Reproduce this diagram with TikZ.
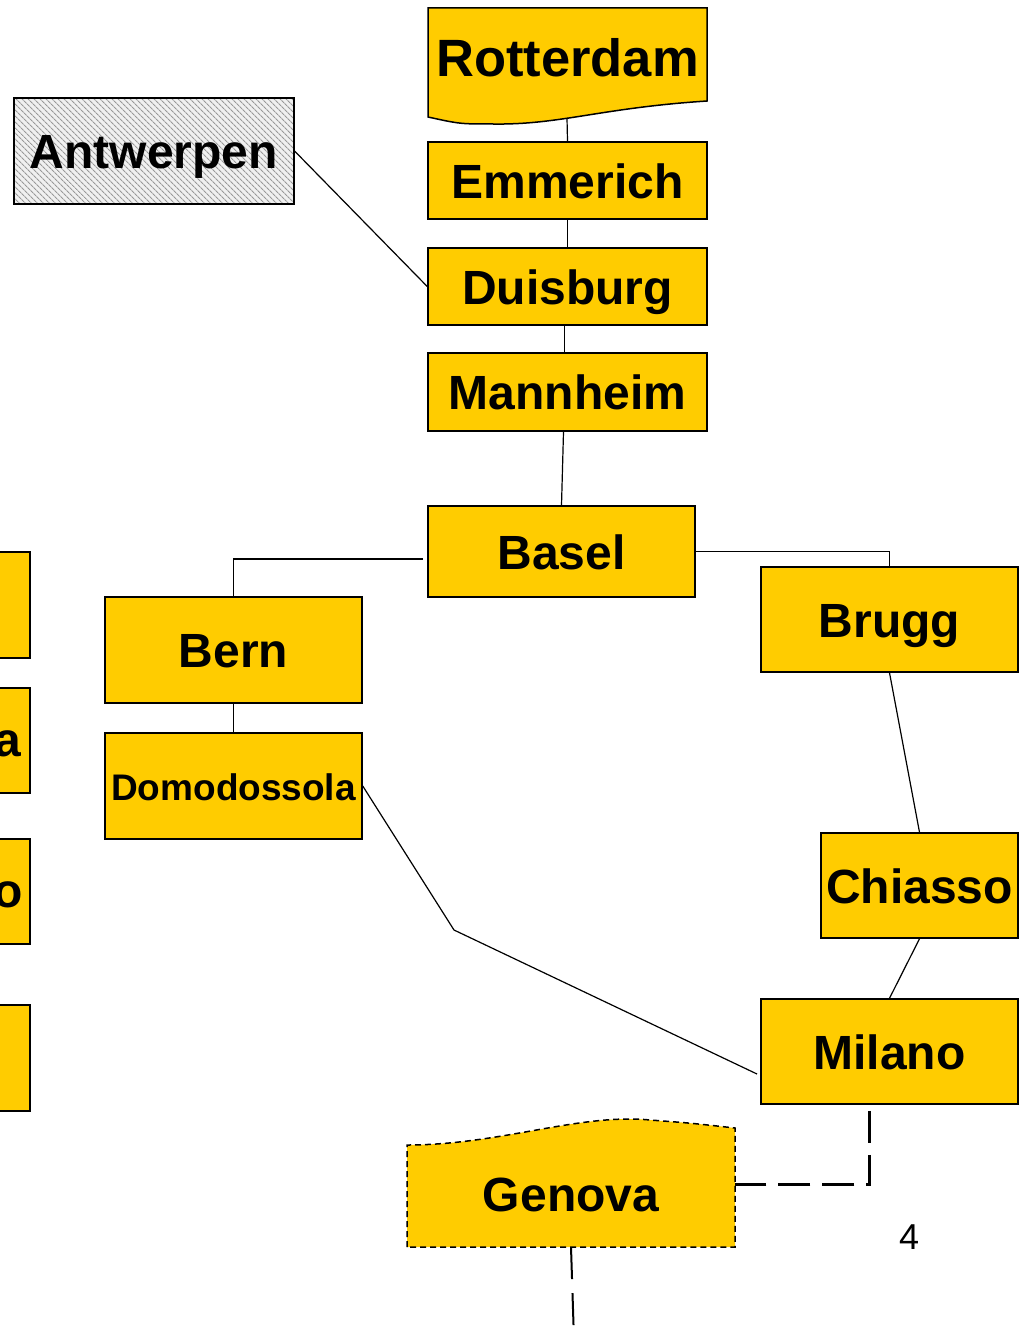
\documentclass[tikz,border=0pt]{standalone}
\usepackage{fontspec}
\setmainfont{Liberation Sans}
\usetikzlibrary{patterns.meta}
\definecolor{boxyellow}{HTML}{FFCC00}
\tikzset{
  box/.style={draw=black, line width=1.5pt, fill=boxyellow, inner sep=0pt,
    font=\fontsize{48}{50}\selectfont\bfseries, text height=37pt, text depth=2pt},
  lbl/.style={inner sep=0pt, font=\fontsize{48}{50}\selectfont\bfseries, text height=37pt, text depth=2pt},
  conn/.style={draw=black, line width=1.2pt},
  bigdash/.style={draw=black, line width=3pt, dash pattern=on 32pt off 12pt, dash phase=38pt},
  meddash/.style={draw=black, line width=2pt, dash pattern=on 32pt off 14pt},
}
\begin{document}
\begin{tikzpicture}[x=1pt,y=-1pt]
\useasboundingbox (0,0) rectangle (1025,1327);
\clip (0,0) rectangle (1025,1327);

% Rotterdam (document shape)
\draw[line width=1.5pt, fill=boxyellow] (428,8) -- (707,8) -- (707,101)
  .. controls (600,108) and (560,125) .. (493,124)
  .. controls (460,124) .. (428,117) -- cycle;
\node[inner sep=0pt, font=\fontsize{52.5}{55}\selectfont\bfseries] (Rotterdam) at (567.5,58) {Rotterdam};
\coordinate (Rbot) at (567,118);

\node[box, minimum width=279pt, minimum height=77pt] (Emmerich) at (567.5,180.5) {Emmerich};
\node[box, minimum width=279pt, minimum height=77pt] (Duisburg) at (567.5,286.5) {Duisburg};
\node[box, minimum width=279pt, minimum height=78pt] (Mannheim) at (567.5,392) {Mannheim};
\node[box, minimum width=267pt, minimum height=91pt] (Basel) at (561.5,551.5) {Basel};

\node[draw=black, line width=1.5pt, inner sep=0pt,
  preaction={fill=gray!12},
  pattern={Lines[angle=-45,distance=4pt,line width=1.1pt]}, pattern color=gray!80,
  minimum width=280pt, minimum height=106pt] (AntwerpenBox) at (154,151) {};
\node[lbl] (Antwerpen) at (154,151) {Antwerpen};

\node[box, minimum width=257pt, minimum height=106pt] (Bern) at (233.5,650) {Bern};
\node[box, minimum width=257pt, minimum height=106pt,
  font=\fontsize{37}{40}\selectfont\bfseries, text height=30pt, text depth=2pt] (Domodossola) at (233.5,786) {Domodossola};
\node[box, minimum width=257pt, minimum height=105pt] (Brugg) at (889.5,619.5) {Brugg};
\node[box, minimum width=197pt, minimum height=105pt] (Chiasso) at (919.5,885.5) {Chiasso};
\node[box, minimum width=257pt, minimum height=105pt] (Milano) at (889.5,1051.5) {Milano};

% left partial boxes
\node[box, minimum width=40pt, minimum height=106pt] (L1) at (10,605) {};
\node[box, minimum width=40pt, minimum height=105pt] (L2) at (10,740.5) {};
\node[box, minimum width=40pt, minimum height=105pt] (L3) at (10,891.5) {};
\node[box, minimum width=40pt, minimum height=106pt] (L4) at (10,1058) {};
\node[lbl, anchor=east] (L2t) at (21,739) {a};
\node[lbl, anchor=east] (L3t) at (23,890) {o};

% Genova (dashed wavy shape)
\draw[line width=1.5pt, fill=boxyellow, dash pattern=on 6pt off 4pt]
  (407,1247) -- (407,1145)
  .. controls (500,1145) and (580,1113) .. (650,1120)
  .. controls (690,1123) .. (735,1128) -- (735,1247) -- cycle;
\node[inner sep=0pt, minimum width=328pt, minimum height=120pt] (Genova) at (571,1187) {};
\node[lbl] (GenovaT) at (571,1194) {Genova};

\node[inner sep=0pt, font=\fontsize{36}{40}\selectfont] (pnum) at (909,1237) {4};

% connectors
\draw[conn] (Rbot) -- (Emmerich.north);
\draw[conn] (Emmerich.south) -- (Duisburg.north);
\draw[conn] ([xshift=-3pt]Duisburg.south) -- ([xshift=-3pt]Mannheim.north);
\draw[conn] ([xshift=-4pt]Mannheim.south) -- (Basel.north);
\draw[conn] (AntwerpenBox.east) -- (Duisburg.west);
\coordinate (bw) at (423,559);
\draw[conn] (bw) -| (Bern.north);
\draw[conn] (Basel.east) -| (Brugg.north);
\draw[conn] (Bern.south) -- (Domodossola.north);
\draw[conn] (Brugg.south) -- (Chiasso.north);
\draw[conn] (Chiasso.south) -- (Milano.north);
\coordinate (dmb) at (454,930);
\coordinate (dme) at (757,1074);
\draw[conn] (Domodossola.east) -- (dmb) -- (dme);
\coordinate (gm) at (869,1184);
\draw[bigdash] (Milano.south -| gm) -- (gm) -- (gm -| Genova.east);
\coordinate (gend) at (574,1340);
\draw[meddash] (Genova.south) -- (gend);
\end{tikzpicture}
\end{document}
